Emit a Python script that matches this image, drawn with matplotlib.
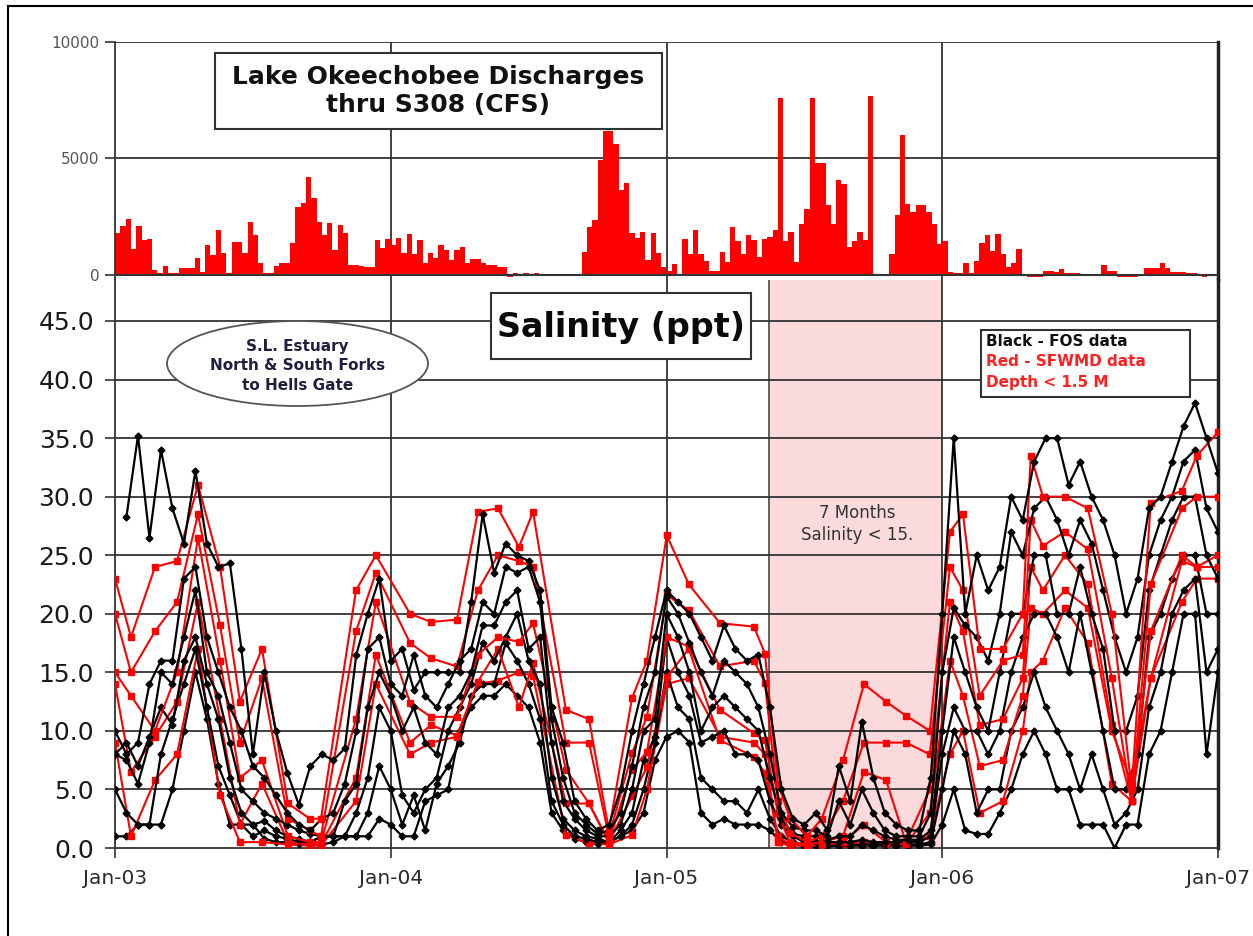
import numpy as np
import matplotlib.pyplot as plt
from matplotlib.patches import Rectangle, Ellipse
from matplotlib.lines import Line2D

nan = np.nan

# Lake Okeechobee discharges thru S308, weekly values (cfs)
q2003 = [1800, 2100, 2400, 1100, 2100, 1500, 1550, 220, 100, 390, 80, 70, 290, 290, 300, 720,
         140, 1300, 870, 1930, 930, 70, 1430, 1430, 930, 2290, 1700, 500, 100, 100, 385, 500,
         500, 1360, 2930, 3070, 4190, 3290, 2290, 1720, 2220, 1070, 2150, 1790, 430, 430, 400,
         360, 360, 1500, 1140, 1530]
q2004 = [1300, 1570, 930, 1760, 900, 1500, 500, 930, 715, 1290, 1070, 640, 1070, 1190, 500, 670,
         670, 500, 430, 430, 360, 360, -70, 70, 60, 80, 50, 70, 40, 40, 30, -40, -40, -40, -40,
         -30, 1000, 2070, 2360, 4930, 6200, 6200, 5640, 3640, 3930, 1800, 1570, 1860, 640, 1790,
         930, 360]
q2005 = [190, 470, 0, 1550, 900, 1910, 900, 620, 190, 190, 980, 550, 2080, 1450, 900, 1700, 1510,
         760, 1550, 1650, 1910, 7600, 1480, 1840, 550, 2200, 2850, 7600, 4810, 4810, 3000, 2200,
         4070, 3900, 1200, 1480, 1840, 1500, 7700, 0, 0, 0, 900, 2560, 6000, 3030, 2700, 2990,
         2990, 2700, 2200, 1340]
q2006 = [1480, 115, 70, 70, 500, 70, 620, 1370, 1700, 1050, 1740, 900, 330, 500, 1120, 40, -100,
         -100, -100, 160, 160, 115, 260, 70, 70, 70, -30, -30, -30, -30, 450, 160, 160, -100,
         -100, -100, -100, 40, 300, 300, 300, 500, 300, 115, 115, 115, 70, 70, 40, -100, 0, 0]
q_years = [2003, 2004, 2005, 2006]

# FOS salinity (ppt), sampled twice a month from Jan-03 to Jan-07
fos_1 = [nan, 28.3, 35.2, 26.5, 34, 29, 26, 32.2, 26, 24, 24.3, 17, 8, 15, 10, 6.4, 3.7, 7, 8, 7.5,
         8.5, 16.5, 20, 23, 16, 17, 13.5, 15, 15, 15, 15, 21, 28.5, 23.5, 26, 25, 24.5, 22, 12, 9,
         4, 2.5, 1.5, 2, 5, 10, 14, 18, 22, 21, 20, 18, 16, 19, 17, 16, 16.5, 12, 5, 2.5,
         2, 3, 1.5, 7, 4, 10.8, 6, 3, 2, 1.5, 1.5, 6, 20, 35, 20, 25, 22, 24, 30, 28,
         33, 35, 35, 31, 33, 30, 28, 25, 20, 23, 29, 30, 33, 36, 38, 35, 32]
fos_2 = [10, 8, 9, 14, 16, 16, 23, 24, 18, 15, 12, 10, 7, 6, 4.5, 3, 2, 1.5, 2.5, 3,
         5.5, 10, 17, 18, 14, 13, 16.5, 13, 12, 14, 16, 17, 21, 20, 24, 23.5, 24, 21, 11, 6,
         3, 2, 1.2, 1.5, 3, 7, 12, 15, 21.5, 20, 17.5, 15, 13, 16, 15, 14, 12, 8, 3, 1.8,
         1.5, 1.5, 1, 4, 2, 5, 3, 1.5, 1, 1, 1, 3, 15, 20.5, 19, 18, 16, 20, 27, 25,
         29, 30, 28, 25, 28, 26, 22, 18, 15, 18, 25, 28, 30, 33, 34, 29, 27]
fos_3 = [8, 7.5, 5.5, 9, 15, 14, 18, 22, 15, 13, 9, 5, 4, 3, 2.5, 2, 1.5, 1.2, 1, 1,
         4, 5.5, 12, 15, 13, 10, 12, 9, 8, 12, 13, 15, 19, 19, 21, 22, 17, 18, 9, 4,
         2.5, 1.5, 1, 1, 2, 5, 10, 11, 20, 18, 15, 10, 12, 13, 12, 11, 10, 6, 2.5, 1.2,
         1, 1, 0.7, 1, 1, 2, 1.5, 1, 0.7, 0.7, 0.7, 1.5, 10, 18, 15, 12, 10, 15, 20, 20,
         25, 25, 20, 20, 24, 20, 17, 10, 10, 13, 22, 25, 28, 30, 30, 25, 23]
fos_4 = [8, 9, 7, 9.5, 12, 10.5, 16, 18, 14, 11, 6, 3, 2, 2.3, 1.5, 1, 0.8, 0.5, 1, 1,
         1, 3, 6, 12, 10, 4.5, 3, 5, 6, 10, 12, 14, 17.5, 16, 18, 20, 16, 14, 6, 2.5,
         1.5, 1, 0.8, 0.5, 1.5, 3, 7.5, 9.5, 18, 15, 13, 9, 9.5, 10, 8, 8, 7.5, 4, 2, 1,
         0.5, 0.5, 0.5, 0.5, 0.5, 0.7, 0.5, 0.5, 0.5, 0.5, 0.5, 1, 8, 12, 10, 10, 8, 10, 15, 18,
         20, 20, 18, 15, 20, 15, 10, 5, 5, 8, 18, 20, 23, 25, 25, 20, 20]
fos_5 = [5, 3, 2, 2, 8, 11, 14, 17, 12, 7, 4.5, 2, 1, 1.5, 1, 0.8, 0.5, 0.5, 1, 1,
         1, 1, 3, 7, 5, 2, 4.5, 1.5, 5.5, 7, 9, 13, 14, 14, 17.5, 16, 14, 11, 4, 2,
         1, 0.8, 0.5, 0.5, 1, 2, 5, 9, 15, 12, 11, 6, 5, 4, 4, 3, 5, 2.5, 1, 0.5,
         0.3, 0.3, 0.2, 0.2, 0.2, 0.3, 0.3, 0.3, 0.3, 0.3, 0.3, 0.5, 5, 10, 8, 3, 5, 5, 10, 12,
         15, 12, 10, 8, 5, 8, 5, 2, 3, 5, 12, 15, 20, 22, 23, 15, 17]
fos_6 = [1, 1, 2, 2, 2, 5, 10, 15, 11, 5.5, 2, 2, 2, 0.8, 0.5, 0.5, 0.3, 0.3, 0.3, 0.5,
         1, 1, 1, 2.5, 2, 1, 1, 4, 4.5, 5, 10, 12, 13, 13, 14, 13, 12, 9, 3, 1.5,
         0.8, 0.5, 0.3, 0.5, 1, 1.5, 3, 7.5, 9.5, 10, 9, 3, 2, 2.5, 2, 2, 2, 1.5, 0.5, 0.3,
         0.2, 0.2, 0.2, 0.2, 0.2, 0.2, 0.2, 0.2, 0.2, 0.2, 0.2, 0.3, 2, 5, 1.5, 1.2, 1.2, 3, 5, 8,
         10, 8, 5, 5, 2, 2, 2, 0, 2, 2, 8, 10, 15, 20, 20, 8, 15]
fos_dates = 2003 + np.arange(97) / 24

# SFWMD salinity (ppt), roughly monthly
sfwmd_dates = [2003.0, 2003.058, 2003.145, 2003.225, 2003.301, 2003.381, 2003.453, 2003.533,
               2003.627, 2003.707, 2003.747, 2003.874, 2003.946, 2004.070, 2004.146, 2004.240,
               2004.316, 2004.389, 2004.465, 2004.516, 2004.635, 2004.719, 2004.791, 2004.875,
               2004.929, 2005.001, 2005.081, 2005.194, 2005.317, 2005.357, 2005.404, 2005.447,
               2005.509, 2005.563, 2005.640, 2005.716, 2005.796, 2005.868, 2005.955, 2006.028,
               2006.075, 2006.136, 2006.220, 2006.292, 2006.321, 2006.365, 2006.445, 2006.528,
               2006.615, 2006.687, 2006.756, 2006.869, 2006.923, 2007.0]
sfwmd_1 = [23, 18, 24, 24.5, 31, 24, 12.5, 17, 3.8, 2.5, 2.5, 22, 25, 20, 19.3, 19.5, 28.7, 29,
           25.7, 28.7, 11.8, 11, 1.5, 12.8, 16, 26.7, 22.5, 19.2, 18.9, 16.6, 5.5, 2.6, 1, 2.5,
           7.5, 14, 12.5, 11.3, 10, 27, 28.5, 17, 17, 20, 33.5, 30, 30, 29, 20, 5, 29.5, 30.5,
           33.5, 35.5]
sfwmd_2 = [20, 15, 18.5, 21, 28.5, 19, 9, 14.5, 2.5, 1.5, 1, 18.5, 23.5, 17.5, 16.2, 15.5, 22, 25,
           24.5, 24, 9, 9, 1, 8.1, 11.2, 21.6, 20.3, 15.5, 16, 14.1, 4, 1.3, 0.5, 1, 4, 9, 9, 9,
           8, 24, 22, 13, 16, 16.5, 28, 25.8, 27, 25.5, 14.5, 4, 22.5, 29, 30, 30]
sfwmd_3 = [15, 13, 10, 15, 26.5, 16, 6, 7.5, 1, 0.5, 0.5, 11, 21, 12.4, 11.2, 11.2, 16.5, 18,
           17.6, 19.2, 6.7, 3.8, 0.5, 6.7, 8.2, 18, 17.2, 11.8, 9.8, 9.2, 3, 0.5, 0.3, 0.5, 1,
           6.5, 5.8, 0.5, 5, 21, 18.5, 10.5, 11, 14.5, 24, 22, 25, 22.5, 10.5, 4, 18.5, 25, 24, 25]
sfwmd_4 = [14, 6.5, 9.5, 12.5, 21, 11, 2, 5.5, 0.5, 0.3, 0.3, 6, 16.5, 9, 10.5, 9.6, 14.2, 17,
           12, 15.8, 3.8, 3.8, 0.5, 4.4, 6.9, 14.6, 17, 9.2, 7.8, 6.4, 1, 0.3, 0.2, 0.3, 0.5, 2,
           0.5, 0.3, 3, 16, 13, 7, 7.5, 13, 20.5, 20, 22, 20.5, 10, 5.5, 14.5, 24.5, 24, 24]
sfwmd_5 = [9, 1, 5.8, 8, 17, 4.5, 0.5, 0.5, 0.3, 0.2, 0.2, 4, 14, 8, 9, 9.5, 14, 14.3, 15, 14.7,
           1.1, 0.4, 0.3, 1.1, 5, 14, 14.5, 9.5, 9, 8, 0.5, 0.2, 0.2, 0.2, 0.3, 0.5, 0.3, 0.3, 1,
           8, 10, 3, 4, 10, 15, 16, 20.5, 17.5, 5.5, 4, 14.5, 21, 23, 23]

year_ticks = [2003, 2004, 2005, 2006, 2007]
year_labels = ['Jan-03', 'Jan-04', 'Jan-05', 'Jan-06', 'Jan-07']
sal_ticks = [0, 5, 10, 15, 20, 25, 30, 35, 40, 45]
low_sal_start, low_sal_end = 2005.37, 2006.0

W, H = 1253, 936
GRID = '#333333'
RED = '#ff0000'


def fx(px):
    return px / W


def fy(py):
    return 1 - py / H


fig = plt.figure(figsize=(W / 100, H / 100), dpi=100)

# ---- discharge panel ----
ax_q = fig.add_axes([fx(115), fy(280), (1218 - 115) / W, (280 - 42) / H])
q_all = q2003 + q2004 + q2005 + q2006
q_dates = [y + (i + 0.5) / 52 for y, q in zip(q_years, [q2003, q2004, q2005, q2006])
           for i in range(len(q))]
ax_q.bar(q_dates, q_all, width=1 / 52, color=RED, linewidth=0, zorder=2)
for v in [5000, 10000]:
    ax_q.axhline(v, color=GRID, lw=1.3, zorder=1)
ax_q.axhline(0, color=GRID, lw=1.5, zorder=3)
for yr in year_ticks[1:-1]:
    ax_q.axvline(yr, color=GRID, lw=1.3, zorder=1)
ax_q.set_xlim(2003, 2007)
ax_q.set_ylim(-215, 10000)
ax_q.set_yticks([0, 5000, 10000])
ax_q.set_yticklabels(['0', '5000', '10000'])
ax_q.tick_params(axis='y', length=7, width=1.2, color=GRID, labelsize=11,
                 labelcolor='#555555', pad=4)
ax_q.set_xticks([])
for s in ['top', 'bottom']:
    ax_q.spines[s].set_visible(False)
ax_q.spines['left'].set_color(GRID)
ax_q.spines['left'].set_linewidth(1.3)
ax_q.spines['right'].set_color('#222222')
ax_q.spines['right'].set_linewidth(2.5)

# ---- salinity panel ----
ax_s = fig.add_axes([fx(115), fy(848), (1218 - 115) / W, (848 - 280) / H])
ax_s.axvspan(low_sal_start, low_sal_end, color='#fadada', lw=0, zorder=0)
ax_s.axvline(low_sal_start, color='#555555', lw=1.3, zorder=1)
for v in sal_ticks[1:]:
    ax_s.axhline(v, color=GRID, lw=1.3, zorder=1)
for yr in year_ticks[1:-1]:
    ax_s.axvline(yr, color=GRID, lw=1.3, zorder=1)

fos = [fos_1, fos_2, fos_3, fos_4, fos_5, fos_6]
sfwmd = [sfwmd_1, sfwmd_2, sfwmd_3, sfwmd_4, sfwmd_5]
for i in range(6):
    ax_s.plot(fos_dates, fos[5 - i], color='black', lw=1.6, marker='D', ms=3.5, zorder=3)
    if i < 5:
        ax_s.plot(sfwmd_dates, sfwmd[4 - i], color=RED, lw=1.5, marker='s', ms=5,
                  zorder=3)

ax_s.set_xlim(2003, 2007)
ax_s.set_ylim(0, 48.5)
ax_s.set_yticks(sal_ticks)
ax_s.set_yticklabels([f'{v:.1f}' for v in sal_ticks])
ax_s.set_xticks(year_ticks)
ax_s.set_xticklabels(year_labels)
ax_s.tick_params(axis='y', length=7, width=1.2, color=GRID, labelsize=18,
                 labelcolor='#1a1a1a', pad=8)
ax_s.tick_params(axis='x', length=7, width=1.2, color=GRID, labelsize=14.5,
                 labelcolor='#2a2a2a', pad=8)
ax_s.spines['top'].set_visible(False)
for s in ['left', 'bottom']:
    ax_s.spines[s].set_color(GRID)
    ax_s.spines[s].set_linewidth(1.3)
ax_s.spines['right'].set_color('#222222')
ax_s.spines['right'].set_linewidth(2.5)

# ---- annotations ----
fig.add_artist(Rectangle((fx(215), fy(129)), (662 - 215) / W, (129 - 53) / H,
                         transform=fig.transFigure, facecolor='white', edgecolor=GRID,
                         lw=1.5, zorder=5))
fig.text(fx(438), fy(91), 'Lake Okeechobee Discharges\nthru S308 (CFS)', ha='center',
         va='center', fontsize=18, fontweight='bold', color='#111111', linespacing=1.25,
         zorder=6)

fig.add_artist(Rectangle((fx(491), fy(359)), (751 - 491) / W, (359 - 293) / H,
                         transform=fig.transFigure, facecolor='white', edgecolor=GRID,
                         lw=1.5, zorder=5))
fig.text(fx(621), fy(327), 'Salinity (ppt)', ha='center', va='center', fontsize=24,
         fontweight='bold', color='#0a0a0a', zorder=6)

fig.add_artist(Ellipse((fx(297.5), fy(363.5)), 261 / W, 85 / H, transform=fig.transFigure,
                       facecolor='white', edgecolor='#555555', lw=1.3, zorder=5))
fig.text(fx(297.5), fy(366), 'S.L. Estuary\nNorth & South Forks\nto Hells Gate', ha='center',
         va='center', fontsize=11, fontweight='bold', color='#1f2040', linespacing=1.35,
         zorder=6)

fig.add_artist(Rectangle((fx(981), fy(397)), (1190 - 981) / W, (397 - 330) / H,
                         transform=fig.transFigure, facecolor='white', edgecolor=GRID,
                         lw=1.5, zorder=5))
for txt, yy, col in [('Black - FOS data', 341, '#111111'), ('Red - SFWMD data', 362, '#ff2020'),
                     ('Depth < 1.5 M', 383, '#ff2020')]:
    fig.text(fx(986), fy(yy), txt, ha='left', va='center', fontsize=11, fontweight='bold',
             color=col, zorder=6)

fig.text(fx(857), fy(524), '7 Months\nSalinity < 15.', ha='center', va='center', fontsize=12,
         color='#333333', linespacing=1.3, zorder=6)

# outer frame, cut off at right and bottom
fig.add_artist(Line2D([fx(8), 1], [fy(6), fy(6)], transform=fig.transFigure, color='black',
                      lw=1.5))
fig.add_artist(Line2D([fx(8), fx(8)], [fy(6), 0], transform=fig.transFigure, color='black',
                      lw=1.5))

fig.savefig('out.png', dpi=100, facecolor='white')
